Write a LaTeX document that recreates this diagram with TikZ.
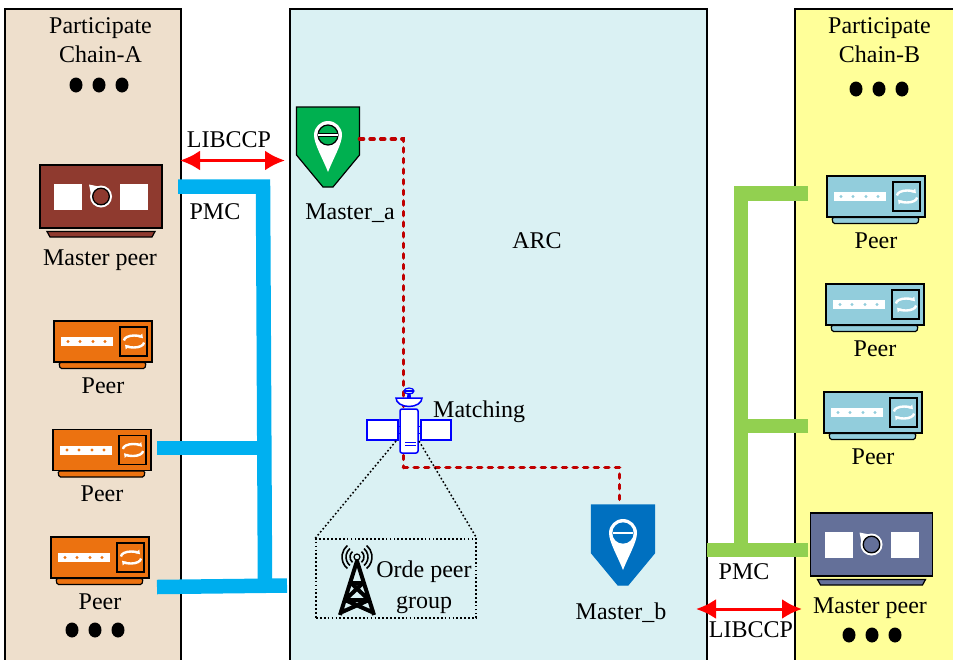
\documentclass[tikz,border=0pt]{standalone}
\usepackage{fontspec}
\setmainfont{Liberation Serif}
\usepackage{xcolor}
\usetikzlibrary{
    arrows.meta,
    calc,
    shapes.geometric
}
\definecolor{chainAfill}{HTML}{EEDFCC}
\definecolor{arcfill}{HTML}{DAF1F3}
\definecolor{chainBfill}{HTML}{FFFF99}
\definecolor{peerorange}{HTML}{EC7210}
\definecolor{peerteal}{HTML}{92CDDC}
\definecolor{masterbrown}{HTML}{8F3A2F}
\definecolor{masterslate}{HTML}{647099}
\definecolor{pmcblue}{HTML}{00B0F0}
\definecolor{pmcgreen}{HTML}{92D050}
\definecolor{pingreen}{HTML}{00B050}
\definecolor{pinblue}{HTML}{0070C0}
\definecolor{arcred}{HTML}{C00000}
\tikzset{
    panel/.style={
        draw=black,
        line width=1.3pt
    }
}
\tikzset{
    caption/.style={
        font=\fontsize{24}{29}\selectfont,
        align=center,
        inner sep=0pt
    }
}
\tikzset{
    pmcline/.style={
        line width=14.5pt
    }
}
\tikzset{
    libccp/.style={
        draw=red,
        line width=3pt,
        {Latex[length=20pt,width=20pt]}-{Latex[length=20pt,width=20pt]}
    }
}
\tikzset{
    arclink/.style={
        draw=arcred,
        line width=3.6pt,
        line cap=round,
        dash pattern=on 4pt off 6.6pt
    }
}
\tikzset{
    dotlink/.style={
        draw=black,
        line width=1.5pt,
        dash pattern=on 1.7pt off 2.2pt
    }
}
\tikzset{
    blackdot/.style={
        ellipse,
        fill=black,
        inner sep=0pt,
        minimum width=13pt,
        minimum height=15pt
    }
}
\tikzset{
    satpart/.style={
        draw=blue,
        line width=1.5pt,
        fill=white
    }
}
% peer device: body, tray, strip with leds and a small sync window
\tikzset{
    pics/peerdevice/.style={
        code={
            \fill[#1, draw=black, line width=1.2pt, rounded corners=1.5pt]
                (-44,21) -- (43,21) -- (42,27) -- (-43,27) -- cycle;
            \node[draw=black, line width=1.5pt, fill=#1, inner sep=0pt,
                  minimum width=98pt, minimum height=41pt] (-body) at (0,0) {};
            \fill[white] (-42,-4.5) rectangle (10,4.5);
            \foreach \d in {-35,-23,-10,2} {
                \fill[#1] (\d,0) circle (1.6);
            }
            \draw[black, line width=1.5pt] (17,-14.5) rectangle (44,14.5);
            \draw[white, line width=2.4pt, -{Latex[length=4pt,width=6pt]}]
                (21,-1) arc[start angle=180, end angle=335, x radius=10, y radius=5];
            \draw[white, line width=2.4pt, -{Latex[length=4pt,width=6pt]}]
                (41,1) arc[start angle=0, end angle=155, x radius=10, y radius=5];
        }
    }
}
% master peer device: wider body with two windows and a dial
\tikzset{
    pics/masterdevice/.style={
        code={
            \fill[#1, draw=black, line width=1.2pt]
                (-54,35) -- (54,35) -- (51,40.5) -- (-51,40.5) -- cycle;
            \node[draw=black, line width=1.5pt, fill=#1, inner sep=0pt,
                  minimum width=122pt, minimum height=63pt] (-body) at (0,0) {};
            \fill[white] (-47,-13) rectangle (-19,13);
            \fill[white] (19,-13) rectangle (47,13);
            \fill[white] (0,0) circle (11);
            \fill[white] (-12,-12) -- (-2,-10) -- (-10,-2) -- cycle;
            \draw[black, line width=1.3pt, fill=#1] (0,0) circle (8.3);
        }
    }
}
% map pin on a shield
\tikzset{
    pics/masterpin/.style 2 args={
        code={
            \fill[#1, draw=#2, line width=1.2pt]
                (-31.5,-28) -- (31.5,-28) -- (31.5,20) -- (5,52) -- (-5,52) -- (-31.5,20) -- cycle;
            \fill[white] (-14,0) arc[start angle=180, end angle=360, radius=14]
                .. controls (14,9) and (5,24) .. (0,37)
                .. controls (-5,24) and (-14,9) .. (-14,0) -- cycle;
            \draw[#2, line width=1.2pt, fill=#1] (0,0) circle (10);
            \fill[white] (-10,-1.6) rectangle (10,1.6);
            \draw[#2, line width=1.2pt] (-10,-1.6) -- (10,-1.6) (-10,1.6) -- (10,1.6);
            \coordinate (-east) at (31.5,4);
            \coordinate (-north) at (0,-28);
        }
    }
}

\begin{document}
\begin{tikzpicture}[
    x=1pt,
    y=-1pt,
    >=Latex
]
\useasboundingbox (0,0) rectangle (953,659);

% ------------------------------------------------------------
% Panels
% ------------------------------------------------------------

\draw[panel, fill=chainAfill] (5,9) rectangle (181,665);
\draw[panel, fill=arcfill] (290,9) rectangle (707,665);
\draw[panel, fill=chainBfill] (795,9) rectangle (960,665);

\node[caption] (titleA) at (100.5,40) {Participate\\Chain-A};
\node[caption] (titleB) at (879.5,40.5) {Participate\\Chain-B};
\node[caption] (arc) at (537,240.5) {ARC};

\foreach \name/\x/\y in {
    dotA1/76/85, dotA2/99/85, dotA3/122/85,
    dotA4/72/630, dotA5/95/630, dotA6/118/630,
    dotB1/856/89, dotB2/879/89, dotB3/902/89,
    dotB4/849/635, dotB5/872/635, dotB6/895/635} {
    \node[blackdot] (\name) at (\x,\y) {};
}

% ------------------------------------------------------------
% Devices of both chains
% ------------------------------------------------------------

\pic (masterA) at (101,196.5) {masterdevice=masterbrown};
\node[caption] (masterAlabel) at (100,260) {Master peer};
\pic (masterB) at (871.5,544.5) {masterdevice=masterslate};
\node[caption] (masterBlabel) at (870,608) {Master peer};

\foreach \name/\x/\y/\ly in {peerA1/103/341.5/386, peerA2/102/450/494, peerA3/100/557.5/602} {
    \pic (\name) at (\x,\y) {peerdevice=peerorange};
    \node[caption] (\name label) at (\x,\ly) {Peer};
}
\foreach \name/\x/\y/\ly in {peerB1/876/196.5/241, peerB2/875/304.5/349, peerB3/873/412.5/457} {
    \pic (\name) at (\x,\y) {peerdevice=peerteal};
    \node[caption] (\name label) at (\x,\ly) {Peer};
}

% ------------------------------------------------------------
% PMC trunks
% ------------------------------------------------------------

\coordinate (blueA) at (178,186.5);
\coordinate (blueCorner) at (263,186.5);
\coordinate (blueFoot) at (265,586);
\coordinate (blueMid) at (264,448);
\coordinate (bluePeer) at (157,448);
\coordinate (blueLow) at (157,587);
\coordinate (blueEnd) at (287,585.5);
\draw[pmcline, draw=pmcblue] (blueA) -- (blueCorner) -- (blueFoot);
\draw[pmcline, draw=pmcblue] (bluePeer) -- (blueMid);
\draw[pmcline, draw=pmcblue] (blueLow) -- (blueEnd);

\coordinate (greenTop) at (808,193.5);
\coordinate (greenCorner) at (741,193.5);
\coordinate (greenFoot) at (741,550);
\coordinate (greenMid) at (741,426);
\coordinate (greenPeer) at (808,426);
\coordinate (greenLow) at (707,550);
\coordinate (greenEnd) at (808,550);
\draw[pmcline, draw=pmcgreen] (greenTop) -- (greenCorner) -- (greenFoot);
\draw[pmcline, draw=pmcgreen] (greenPeer) -- (greenMid);
\draw[pmcline, draw=pmcgreen] (greenLow) -- (greenEnd);

\node[caption] (pmcA) at (215,211.5) {PMC};
\node[caption] (pmcB) at (744,571.5) {PMC};

% ------------------------------------------------------------
% Masters and matching path
% ------------------------------------------------------------

\pic (masterPinA) at (328,135) {masterpin={pingreen}{black}};
\node[caption] (masterPinAlabel) at (350,213.5) {Master\_a};
\pic (masterPinB) at (623,533) {masterpin={pinblue}{pinblue}};
\node[caption] (masterPinBlabel) at (621,612.5) {Master\_b};

\coordinate (matchHub) at (403.5,467.5);
\coordinate (matchTurn) at (619.5,467.5);
\draw[arclink] (masterPinA-east) -- (403.5,139) -- (matchHub);
\draw[arclink] (matchHub) -- (matchTurn) -- (matchTurn |- masterPinB-north);

% LIBCCP links
\coordinate (libA) at (180,160.5);
\coordinate (libR) at (285,160.5);
\coordinate (libB) at (696,609);
\coordinate (libChain) at (802,609);
\draw[libccp] (libA) -- (libR);
\draw[libccp] (libB) -- (libChain);
\node[caption] (libccpA) at (229,139.5) {LIBCCP};
\node[caption] (libccpB) at (751,629.5) {LIBCCP};

% ------------------------------------------------------------
% Satellite and orderer group
% ------------------------------------------------------------

\draw[blue, line width=1pt] (398,426.5) -- (400,426.5) (398,433.5) -- (400,433.5)
    (418,426.5) -- (421,426.5) (418,433.5) -- (421,433.5);
\node[satpart, minimum width=31pt, minimum height=20pt, inner sep=0pt] (panelL) at (382.5,430) {};
\node[satpart, minimum width=30pt, minimum height=20pt, inner sep=0pt] (panelR) at (436,430) {};
\node[satpart, rounded corners=2pt, minimum width=18pt, minimum height=44pt, inner sep=0pt] (satbody) at (409,431) {};
\draw[blue, line width=1pt] (405,442) -- (416,442) (405,445) -- (416,445);
\draw[satpart] (396,398) -- (422,398) arc[start angle=0, end angle=180, x radius=13, y radius=8.5] -- cycle;
\fill[blue] (407.5,393) -- (410.5,393) -- (411,398) -- (407,398) -- cycle;
\draw[blue, line width=1.2pt] (409,391) ellipse (5 and 3);
\draw[blue, line width=1.2pt] (404.5,391) -- (413.5,391);

\node[caption, anchor=west] (matching) at (433,411.5) {Matching};

\node[dotlink, minimum width=160pt, minimum height=79pt, inner sep=0pt] (ordegroup) at (396,578.5) {};
\draw[dotlink] (396,441) -- (ordegroup.north west);
\draw[dotlink] (419,441) -- (ordegroup.north east);

\node[caption, font=\fontsize{24}{31}\selectfont] (ordelabel) at (424,587.5) {Orde peer\\group};

% tower
\draw[black, line width=4pt, line join=round]
    (340,615) -- (357,561) -- (374,615)
    (351,583) -- (363,583)
    (351,583) -- (369,600) (363,583) -- (345,600)
    (345,600) -- (369.5,600)
    (345,600) -- (372,612) (369,600) -- (342,612);
\draw[black, line width=1.2pt] (357,557) circle (3);
\foreach \r in {7,11,15} {
    \draw[black, line width=1.6pt] ($(357,557)+(130:\r)$) arc[start angle=130, end angle=230, radius=\r];
    \draw[black, line width=1.6pt] ($(357,557)+(50:\r)$) arc[start angle=50, end angle=-50, radius=\r];
}

\end{tikzpicture}
\end{document}
